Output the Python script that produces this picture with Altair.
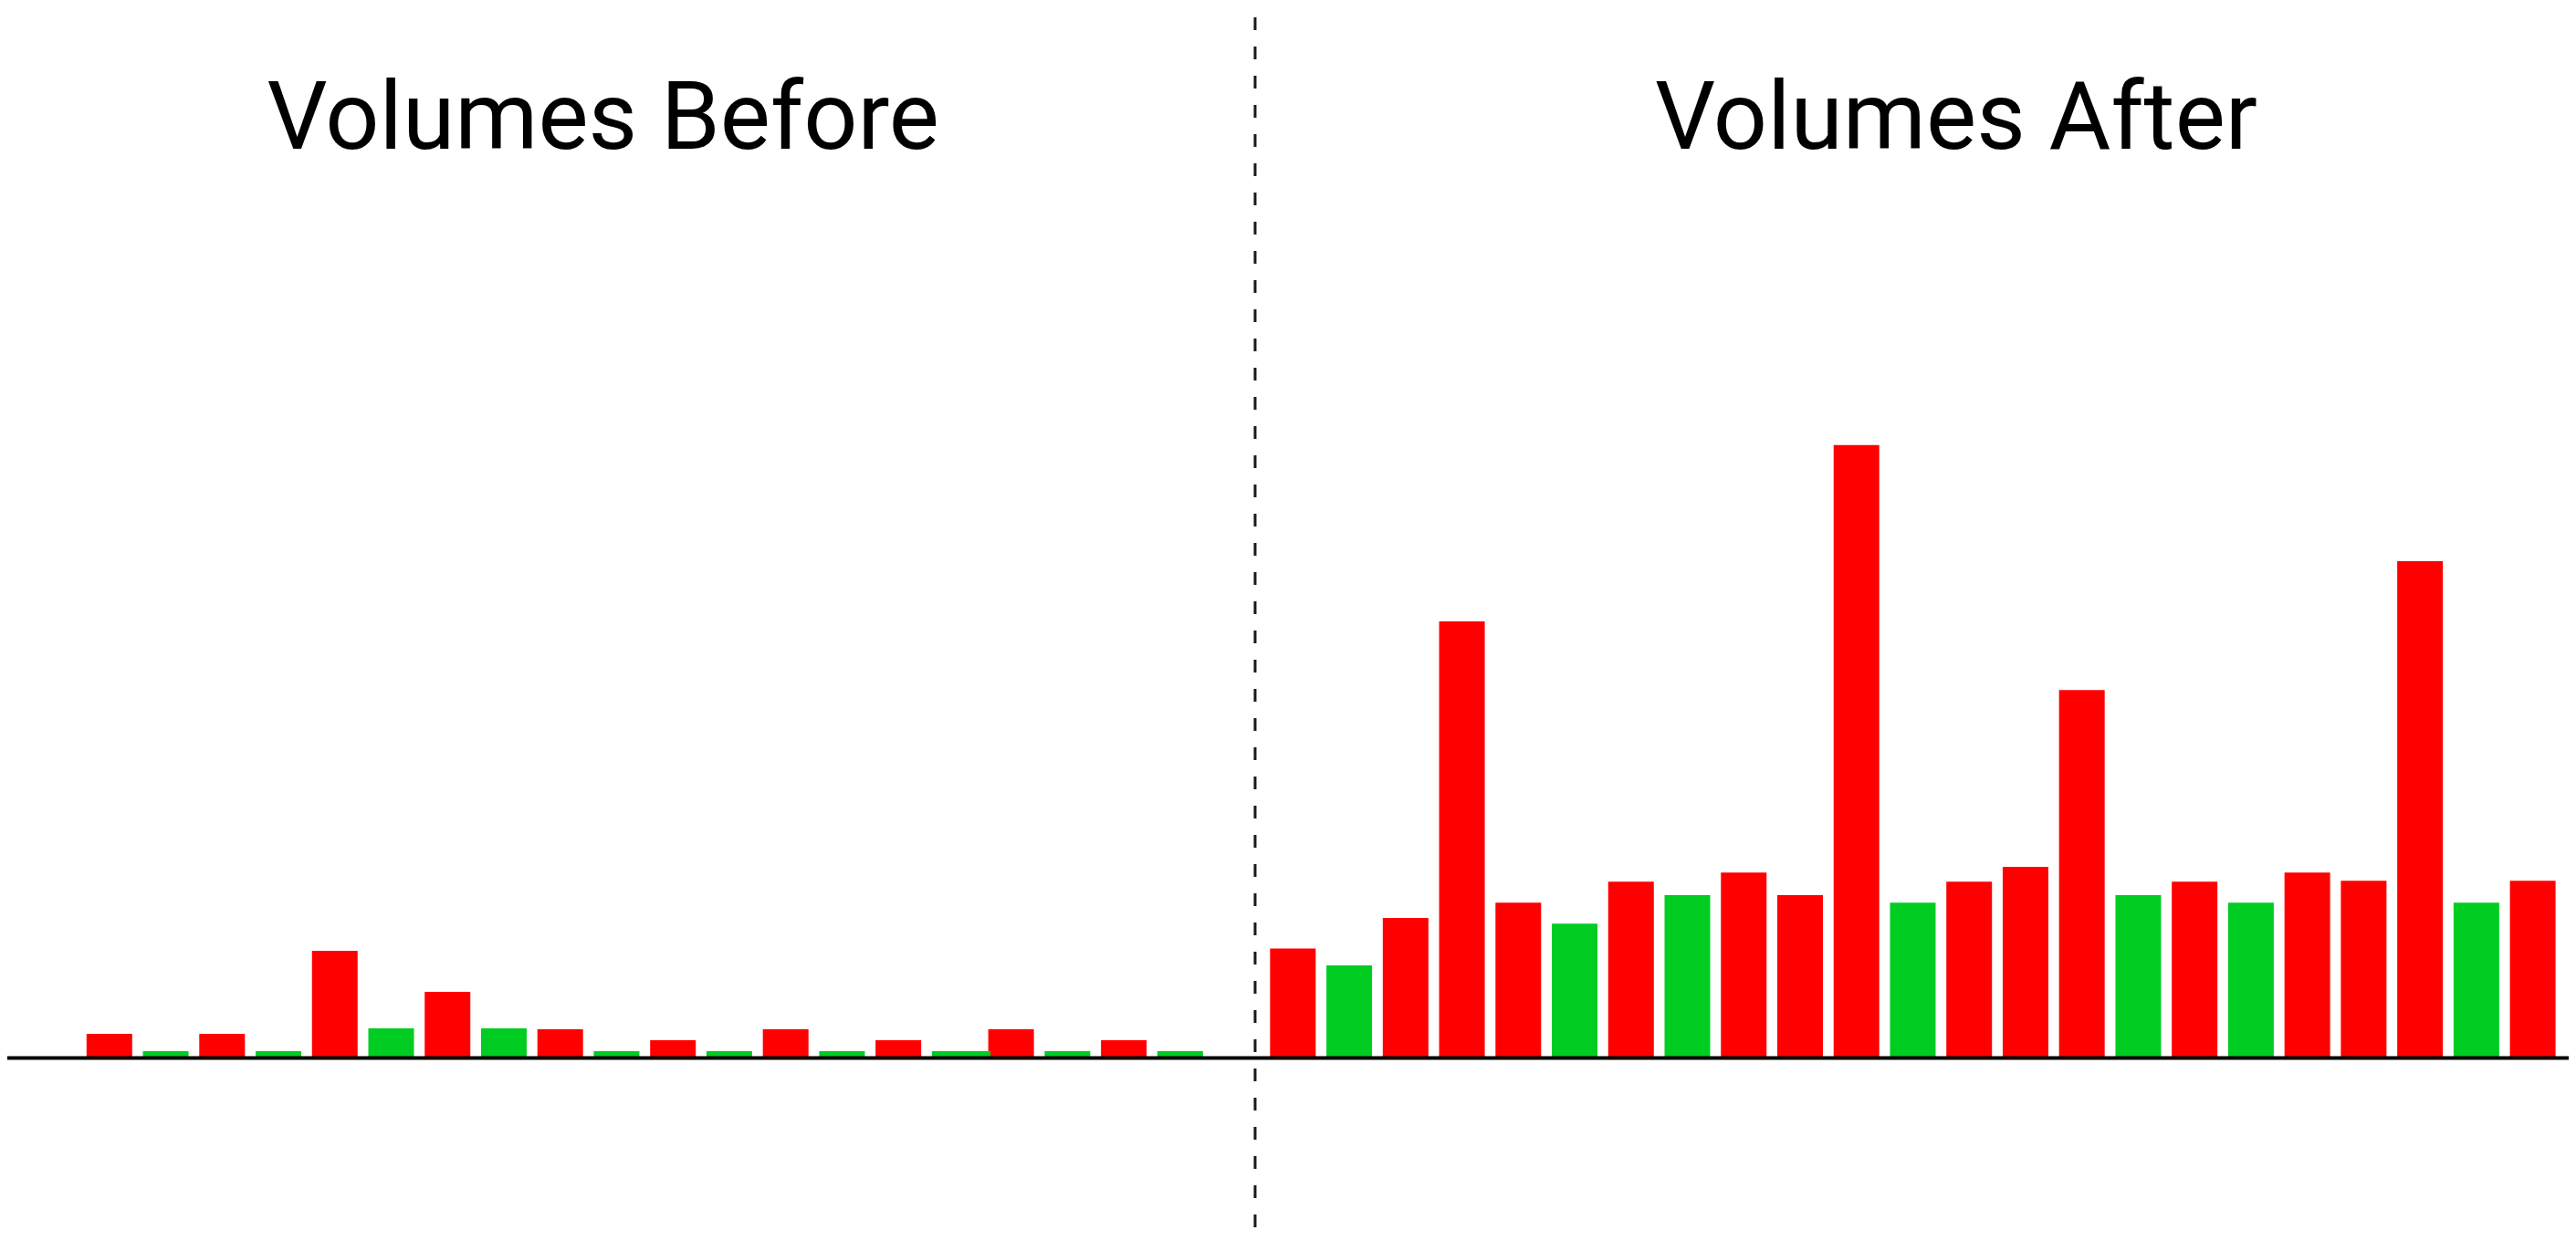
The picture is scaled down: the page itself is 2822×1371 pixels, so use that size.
import altair as alt
import pandas as pd

# Slot index of each volume bar (one empty slot separates Before / After)
slots = list(range(1, 21)) + [16.23] + list(range(22, 45))
# Volumes (arbitrary units)
volumes = [26.5, 7.5, 26.5, 7.5, 117.5, 32.5, 72.5, 32.5, 31.5, 7.5,
           19.5, 7.5, 31.5, 7.5, 19.5, 7.5, 31.5, 7.5, 19.5, 7.5,
           7.5,
           120, 101.4, 153.5, 478.4, 170.3, 147.3, 193.2, 178.4, 203.3, 178.4,
           671.7, 170.3, 193.2, 209.5, 403.3, 178.4, 193.2, 170.3, 203.3, 194.2,
           544.4, 170.3, 194.2]
# Direction of each bar: "down" = red, "up" = green
direction = ["down", "up", "down", "up", "down", "up", "down", "up", "down", "up",
             "down", "up", "down", "up", "down", "up", "down", "up", "down", "up",
             "up",
             "down", "up", "down", "down", "down", "up", "down", "up", "down", "down",
             "down", "up", "down", "down", "down", "up", "down", "up", "down", "down",
             "down", "up", "down"]

titles = ["Volumes Before", "Volumes After"]
title_slots = [9.76, 33.77]
title_level = [996.5, 996.5]
split_slot = [21.33]

bars_df = pd.DataFrame({"slot": slots, "volume": volumes, "dir": direction})
titles_df = pd.DataFrame({"slot": title_slots, "label": titles, "level": title_level})
split_df = pd.DataFrame({"slot": split_slot})
zero_df = pd.DataFrame({"level": [0]})

xscale = alt.Scale(domain=[-0.730, 44.557], nice=False, zero=False)
yscale = alt.Scale(domain=[-203.5, 1151.5], nice=False, zero=False)

bars = alt.Chart(bars_df).mark_bar(width=50).encode(
    x=alt.X("slot:Q", scale=xscale, axis=None),
    y=alt.Y("volume:Q", scale=yscale, axis=None),
    y2=alt.datum(0),
    color=alt.Color("dir:N", scale=alt.Scale(domain=["down", "up"], range=["#FF0000", "#00CC22"]), legend=None),
)

baseline = alt.Chart(zero_df).mark_rule(color="#000000", strokeWidth=4).encode(
    y=alt.Y("level:Q", scale=yscale, axis=None)
)

split = alt.Chart(split_df).mark_rule(color="#1a1a1a", strokeWidth=3, strokeDash=[14, 18], strokeDashOffset=21).encode(
    x=alt.X("slot:Q", scale=xscale, axis=None)
)

title_text = alt.Chart(titles_df).mark_text(
    font="Roboto", fontSize=104, color="#000000", align="center", baseline="alphabetic"
).encode(
    x=alt.X("slot:Q", scale=xscale, axis=None),
    y=alt.Y("level:Q", scale=yscale, axis=None),
    text="label:N",
)

chart = alt.layer(bars, baseline, split, title_text).properties(
    width=2806, height=1355, padding=0,
    autosize=alt.AutoSizeParams(type="none"),
    background="#ffffff",
).configure_view(stroke=None)

chart.save("out.html", embed_options={"renderer": "svg", "actions": False})
